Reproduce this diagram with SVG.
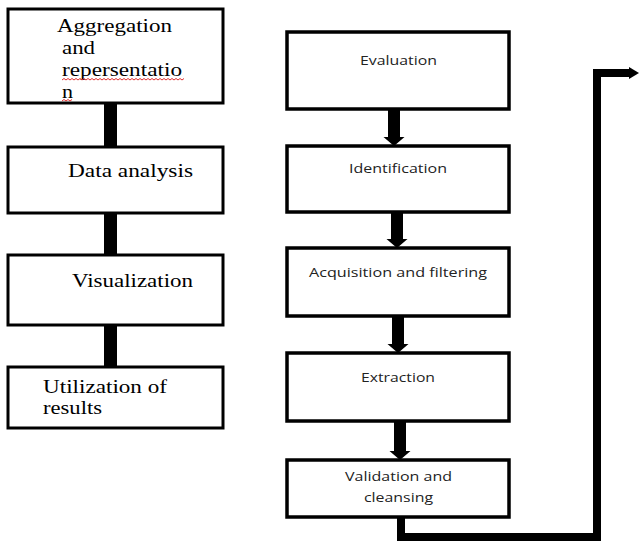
<svg xmlns="http://www.w3.org/2000/svg" width="639" height="544" viewBox="0 0 639 544">
<style>
.box{fill:#fff;stroke:#000;stroke-width:3}
.rbox{fill:#fff;stroke:#000;stroke-width:3.5}
.serif{font-family:"Liberation Serif","Times New Roman",serif;font-size:18px;fill:#000}
.sans{font-family:"Open Sans","Liberation Sans",sans-serif;font-size:12px;fill:#222}
.sq{fill:none;stroke:#e03030;stroke-width:1}
</style>
<rect width="639" height="544" fill="#fff"/>
<g id="connectors">
<rect x="104" y="103" width="13" height="44"/>
<rect x="104" y="213" width="13" height="42"/>
<rect x="104" y="325" width="13" height="42"/>
<path d="M388,109 H400 V137 H404.5 L394,146 L383.5,137 H388 Z"/>
<path d="M391,212 H403 V239 H407.5 L397,248 L386.5,239 H391 Z"/>
<path d="M392,316 H404 V344 H408.5 L398,353 L387.5,344 H392 Z"/>
<path d="M394,421 H406 V451 H410.5 L400,460 L389.5,451 H394 Z"/>
<polyline points="401,517 401,537 597,537 597,73 630,73" fill="none" stroke="#000" stroke-width="8"/>
<path d="M629,67 L639,73 L629,79 Z"/>
</g>
<g id="n1"><rect class="box" x="8" y="9" width="215" height="94"/>
<text class="serif" x="57" y="32" textLength="115" lengthAdjust="spacingAndGlyphs">Aggregation</text>
<text class="serif" x="62" y="54" textLength="33" lengthAdjust="spacingAndGlyphs">and</text>
<text class="serif" x="62" y="76" textLength="120" lengthAdjust="spacingAndGlyphs">repersentatio</text>
<text class="serif" x="62" y="98" textLength="11" lengthAdjust="spacingAndGlyphs">n</text>
<path class="sq" d="M62,80 l2,-1.5 l2,1.5 l2,-1.5 l2,1.5 l2,-1.5 l2,1.5 l2,-1.5 l2,1.5 l2,-1.5 l2,1.5 l2,-1.5 l2,1.5 l2,-1.5 l2,1.5 l2,-1.5 l2,1.5 l2,-1.5 l2,1.5 l2,-1.5 l2,1.5 l2,-1.5 l2,1.5 l2,-1.5 l2,1.5 l2,-1.5 l2,1.5 l2,-1.5 l2,1.5 l2,-1.5 l2,1.5 l2,-1.5 l2,1.5 l2,-1.5 l2,1.5 l2,-1.5 l2,1.5 l2,-1.5 l2,1.5 l2,-1.5 l2,1.5 l2,-1.5 l2,1.5 l2,-1.5 l2,1.5 l2,-1.5 l2,1.5 l2,-1.5 l2,1.5 l2,-1.5 l2,1.5 l2,-1.5 l2,1.5 l2,-1.5 l2,1.5 l2,-1.5 l2,1.5 l2,-1.5 l2,1.5 l2,-1.5 l2,1.5 l2,-1.5"/>
<path class="sq" d="M62,101 l2,-1.5 l2,1.5 l2,-1.5 l2,1.5 l2,-1.5"/>
</g>
<g id="n2"><rect class="box" x="8" y="147" width="215" height="66"/>
<text class="serif" x="68" y="177" textLength="125" lengthAdjust="spacingAndGlyphs">Data analysis</text></g>
<g id="n3"><rect class="box" x="8" y="255" width="215" height="70"/>
<text class="serif" x="72" y="287" textLength="121" lengthAdjust="spacingAndGlyphs">Visualization</text></g>
<g id="n4"><rect class="box" x="8" y="367" width="215" height="61"/>
<text class="serif" x="43" y="393" textLength="124" lengthAdjust="spacingAndGlyphs">Utilization of</text>
<text class="serif" x="43" y="414" textLength="59" lengthAdjust="spacingAndGlyphs">results</text></g>
<g id="r1"><rect class="rbox" x="287" y="32" width="222" height="77"/>
<text class="sans" x="360" y="65" textLength="77" lengthAdjust="spacingAndGlyphs">Evaluation</text></g>
<g id="r2"><rect class="rbox" x="287" y="146" width="222" height="66"/>
<text class="sans" x="349" y="173" textLength="98" lengthAdjust="spacingAndGlyphs">Identification</text></g>
<g id="r3"><rect class="rbox" x="287" y="248" width="222" height="68"/>
<text class="sans" x="309" y="277" textLength="178" lengthAdjust="spacingAndGlyphs">Acquisition and filtering</text></g>
<g id="r4"><rect class="rbox" x="287" y="353" width="222" height="68"/>
<text class="sans" x="361" y="382" textLength="74" lengthAdjust="spacingAndGlyphs">Extraction</text></g>
<g id="r5"><rect class="rbox" x="287" y="460" width="222" height="57"/>
<text class="sans" x="345" y="481" textLength="107" lengthAdjust="spacingAndGlyphs">Validation and</text>
<text class="sans" x="364" y="502" textLength="69" lengthAdjust="spacingAndGlyphs">cleansing</text></g>
</svg>
